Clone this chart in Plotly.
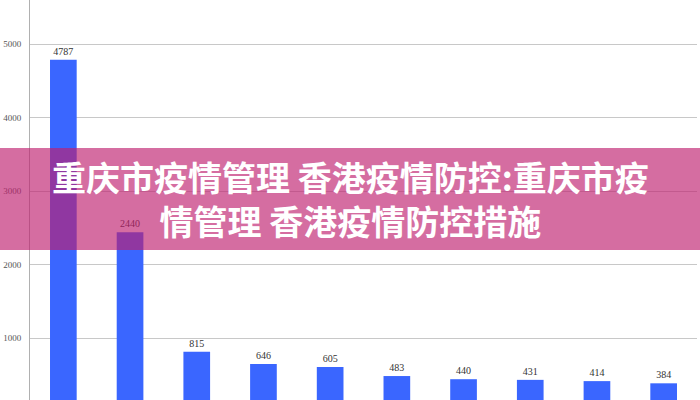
import plotly.graph_objects as go

categories = ["1", "2", "3", "4", "5", "6", "7", "8", "9", "10"]
values = [4787, 2440, 815, 646, 605, 483, 440, 431, 414, 384]
y_ticks = [1000, 2000, 3000, 4000, 5000]
title_lines = ["重庆市疫情管理 香港疫情防控:重庆市疫", "情管理 香港疫情防控措施"]

fig = go.Figure()
fig.add_trace(go.Bar(
    x=categories, y=values,
    marker=dict(color="#3a66ff", line=dict(width=0)),
    text=[str(v) for v in values],
    textposition="outside",
    textfont=dict(family="Liberation Serif", size=10, color="#333333"),
    cliponaxis=False,
))

W, H = 700, 400
L, R = 30, 3
pw = W - L - R

fig.update_layout(
    width=W, height=H,
    margin=dict(l=L, r=R, t=0, b=0, autoexpand=False),
    paper_bgcolor="white", plot_bgcolor="white",
    bargap=0.6,
    showlegend=False,
    xaxis=dict(range=[-0.5, 9.5], showticklabels=False, showgrid=False, automargin=False,
               zeroline=False, showline=False, ticks=""),
    yaxis=dict(range=[157, 5599], tickvals=y_ticks, ticktext=[str(t) for t in y_ticks],
               showgrid=True, gridcolor="#c8c8c8", gridwidth=1, automargin=False,
               zeroline=False, showline=True, linecolor="#b0b0b0", linewidth=1,
               ticks="", tickfont=dict(family="Liberation Serif", size=9, color="#555555"),
               ticklabelstandoff=6),
    shapes=[dict(type="rect", xref="paper", yref="paper",
                 x0=-L / pw, x1=1 + R / pw, y0=1 - 250 / H, y1=1 - 148 / H,
                 fillcolor="rgba(190,30,110,0.65)", line=dict(width=0), layer="above")],
    annotations=[dict(text="<br>".join(title_lines), xref="paper", yref="paper",
                      x=(350 - L) / pw, y=1 - 198 / H, xanchor="center", yanchor="middle",
                      showarrow=False, align="center",
                      font=dict(family="Noto Sans CJK SC", size=34, color="white", weight="bold"))],
)

fig.write_html("out.html", config={"displayModeBar": False},
               post_script="document.body.style.margin='0';document.body.style.overflow='hidden';")
